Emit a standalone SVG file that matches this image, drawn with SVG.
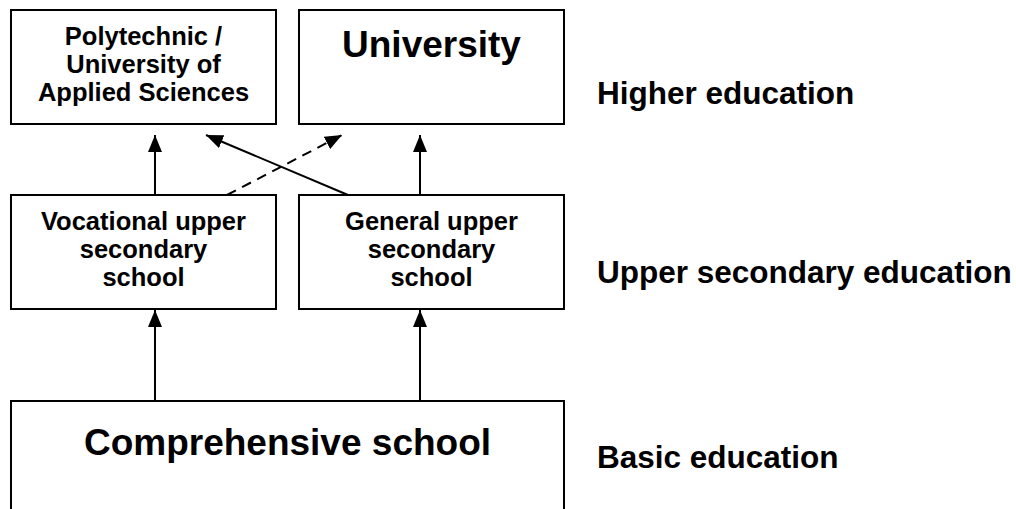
<svg xmlns="http://www.w3.org/2000/svg" width="1016" height="509" viewBox="0 0 1016 509">
<style>
.box{fill:#fff;stroke:#000;stroke-width:2}
text{font-family:"Liberation Sans",Arial,sans-serif;font-weight:bold;fill:#000}
.s{font-size:25.5px;text-anchor:middle}
.l{font-size:37px;text-anchor:middle}
.lab{font-size:31.5px}
.c{stroke:#000;stroke-width:2;fill:none}
.d{stroke-dasharray:10 7}
</style>
<defs>
<marker id="ah" markerUnits="userSpaceOnUse" markerWidth="18" markerHeight="14" refX="17" refY="7" orient="auto">
<path d="M0,0 L17,7 L0,14 z" fill="#000"/>
</marker>
</defs>
<g id="connectors">
<line class="c" x1="155" y1="195" x2="155" y2="135" marker-end="url(#ah)"/>
<line class="c" x1="420" y1="195" x2="420" y2="135" marker-end="url(#ah)"/>
<line class="c" x1="348" y1="195" x2="206" y2="135" marker-end="url(#ah)"/>
<line class="c d" x1="227" y1="195" x2="342" y2="135" marker-end="url(#ah)"/>
<line class="c" x1="155" y1="400" x2="155" y2="310" marker-end="url(#ah)"/>
<line class="c" x1="420" y1="400" x2="420" y2="310" marker-end="url(#ah)"/>
</g>
<g id="polytechnic">
<rect class="box" x="11" y="10" width="265" height="114"/>
<text class="s" x="143.5" y="45">Polytechnic /</text>
<text class="s" x="143.5" y="73">University of</text>
<text class="s" x="143.5" y="101">Applied Sciences</text>
</g>
<g id="university">
<rect class="box" x="299" y="10" width="265" height="114"/>
<text class="l" x="431.5" y="57">University</text>
</g>
<g id="vocational">
<rect class="box" x="11" y="195" width="265" height="114"/>
<text class="s" x="143.5" y="230">Vocational upper</text>
<text class="s" x="143.5" y="258">secondary</text>
<text class="s" x="143.5" y="286">school</text>
</g>
<g id="general">
<rect class="box" x="299" y="195" width="265" height="114"/>
<text class="s" x="431.5" y="230">General upper</text>
<text class="s" x="431.5" y="258">secondary</text>
<text class="s" x="431.5" y="286">school</text>
</g>
<g id="comprehensive">
<rect class="box" x="11" y="401" width="553" height="140"/>
<text class="l" x="287.5" y="455">Comprehensive school</text>
</g>
<g id="levels">
<text class="lab" x="597" y="104">Higher education</text>
<text class="lab" x="597" y="283">Upper secondary education</text>
<text class="lab" x="597" y="468">Basic education</text>
</g>
</svg>
